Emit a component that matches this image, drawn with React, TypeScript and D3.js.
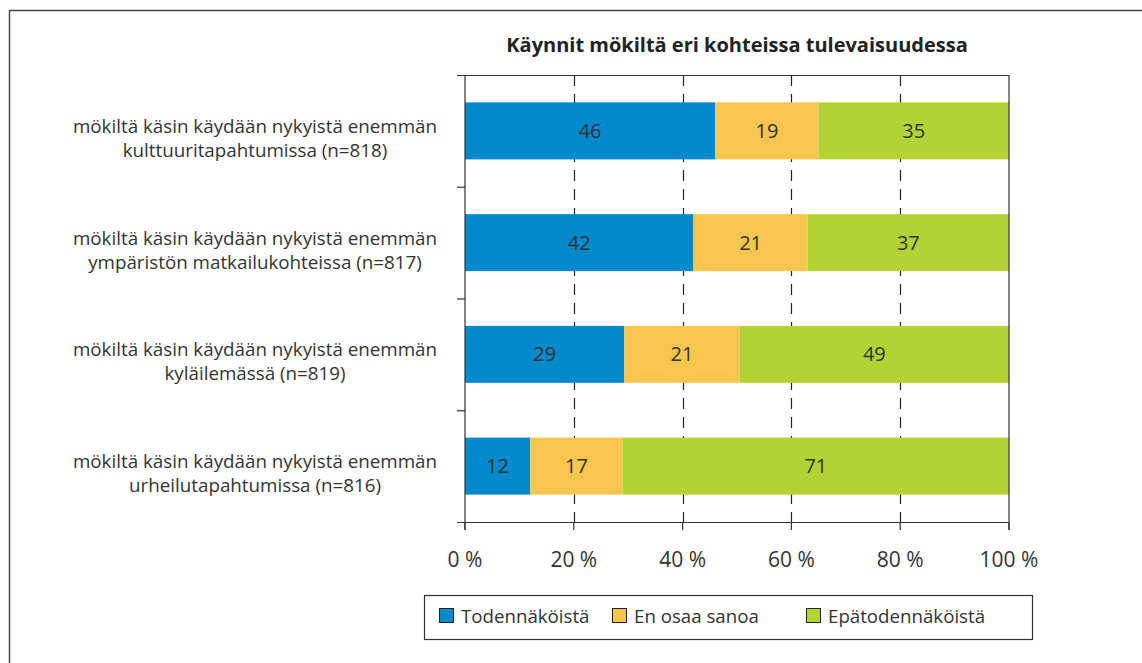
import React from "react";
import * as d3 from "d3";

const title = "Käynnit mökiltä eri kohteissa tulevaisuudessa";
const categoryLine1 = [
  "mökiltä käsin käydään nykyistä enemmän",
  "mökiltä käsin käydään nykyistä enemmän",
  "mökiltä käsin käydään nykyistä enemmän",
  "mökiltä käsin käydään nykyistä enemmän",
];
const categoryLine2 = [
  "kulttuuritapahtumissa (n=818)",
  "ympäristön matkailukohteissa (n=817)",
  "kyläilemässä (n=819)",
  "urheilutapahtumissa (n=816)",
];
const seriesNames = ["Todennäköistä", "En osaa sanoa", "Epätodennäköistä"];
const todennakoista = [46, 42, 29, 12];
const enOsaaSanoa = [19, 21, 21, 17];
const epatodennakoista = [35, 37, 49, 71];
const tickValues = [0, 0.2, 0.4, 0.6, 0.8, 1];
const tickLabels = ["0 %", "20 %", "40 %", "60 %", "80 %", "100 %"];
const colors = ["#0089CB", "#F8C54E", "#B3D334"];

const FONT = "'Open Sans', 'Noto Sans', sans-serif";
const TXT = "#333333";

export default function App() {
  const W = 1142, H = 663;
  const left = 465, right = 1009, top = 75, bottom = 522;

  const rows = categoryLine2.map((_, i) => ({
    key: String(i),
    a: todennakoista[i],
    b: enOsaaSanoa[i],
    c: epatodennakoista[i],
  }));
  const keys = ["a", "b", "c"];
  const vals = [todennakoista, enOsaaSanoa, epatodennakoista];
  const stack = d3.stack<any>().keys(keys).offset(d3.stackOffsetExpand);
  const series = stack(rows);

  const x = d3.scaleLinear().domain([0, 1]).range([left, right]);
  const y = d3.scaleBand<string>().domain(rows.map(r => r.key)).range([top, bottom]).paddingInner(0.49).paddingOuter(0.245);
  const yb = d3.scaleBand<string>().domain(rows.map(r => r.key)).range([top, bottom]);

  const legendX = [439, 612, 806];

  return (
    <svg width={W} height={H} style={{ position: "absolute", left: 0, top: 0, background: "#fff" }} fontFamily={FONT}>
      <rect x={0} y={0} width={W} height={H} fill="#fff" />
      {/* outer frame */}
      <path d={`M9.5,${H + 5} V10.5 H${W + 5}`} fill="none" stroke="#444" strokeWidth={1.5} />
      <text x={(left + right) / 2} y={52} textAnchor="middle" fontSize={20} fontWeight={700} fill="#222">{title}</text>

      {/* dashed gridlines */}
      {tickValues.slice(1, -1).map(t => (
        <line key={t} x1={Math.round(x(t)) + 0.5} x2={Math.round(x(t)) + 0.5} y1={top} y2={bottom} stroke="#222" strokeWidth={1.2} strokeDasharray="11,8" />
      ))}

      {/* bars */}
      {series.map((s, si) => (
        <g key={si} fill={colors[si]}>
          {s.map((d, i) => (
            <rect key={i} x={x(d[0])} y={y(String(i))} width={x(d[1]) - x(d[0])} height={y.bandwidth()} />
          ))}
        </g>
      ))}
      {series.map((s, si) => (
        <g key={"t" + si}>
          {s.map((d, i) => (
            <text key={i} x={(x(d[0]) + x(d[1])) / 2} y={(y(String(i)) as number) + y.bandwidth() / 2 + 7} textAnchor="middle" fontSize={20} fill={TXT}>
              {vals[si][i]}
            </text>
          ))}
        </g>
      ))}

      {/* frame lines */}
      <line x1={left - 8} x2={right} y1={top + 0.5} y2={top + 0.5} stroke="#333" strokeWidth={1.2} />
      <line x1={left - 8} x2={right} y1={bottom + 0.5} y2={bottom + 0.5} stroke="#333" strokeWidth={1.2} />
      <line x1={left} x2={left} y1={top} y2={bottom + 8} stroke="#333" strokeWidth={1.2} />
      <line x1={right} x2={right} y1={top} y2={bottom + 8} stroke="#333" strokeWidth={1.2} />
      {rows.slice(1).map((r) => (
        <line key={r.key} x1={left - 8} x2={left} y1={(yb(r.key) as number) + 0.5} y2={(yb(r.key) as number) + 0.5} stroke="#333" strokeWidth={1.2} />
      ))}
      {tickValues.map(t => (
        <line key={"xt" + t} x1={x(t)} x2={x(t)} y1={bottom} y2={bottom + 8} stroke="#333" strokeWidth={1.2} />
      ))}
      {tickValues.map((t, i) => (
        <text key={"xl" + t} x={x(t)} y={567} textAnchor="middle" fontSize={21} fill={TXT}>{tickLabels[i]}</text>
      ))}

      {/* category labels */}
      {rows.map((r, i) => {
        const cy = (yb(r.key) as number) + yb.bandwidth() / 2;
        return (
          <g key={"c" + i} fontSize={18.8} fill={TXT}>
            <text x={255} y={cy + 2} textAnchor="middle">{categoryLine1[i]}</text>
            <text x={255} y={cy + 26} textAnchor="middle">{categoryLine2[i]}</text>
          </g>
        );
      })}

      {/* legend */}
      <rect x={424.5} y={595.5} width={608} height={44} fill="#fff" stroke="#333" strokeWidth={1.2} />
      {seriesNames.map((n, i) => (
        <g key={"lg" + i}>
          <rect x={legendX[i] + 0.5} y={608.5} width={14} height={14} fill={colors[i]} stroke="#222" strokeWidth={1} />
          <text x={legendX[i] + 22} y={623} fontSize={18.7} fill={TXT}>{n}</text>
        </g>
      ))}
    </svg>
  );
}
